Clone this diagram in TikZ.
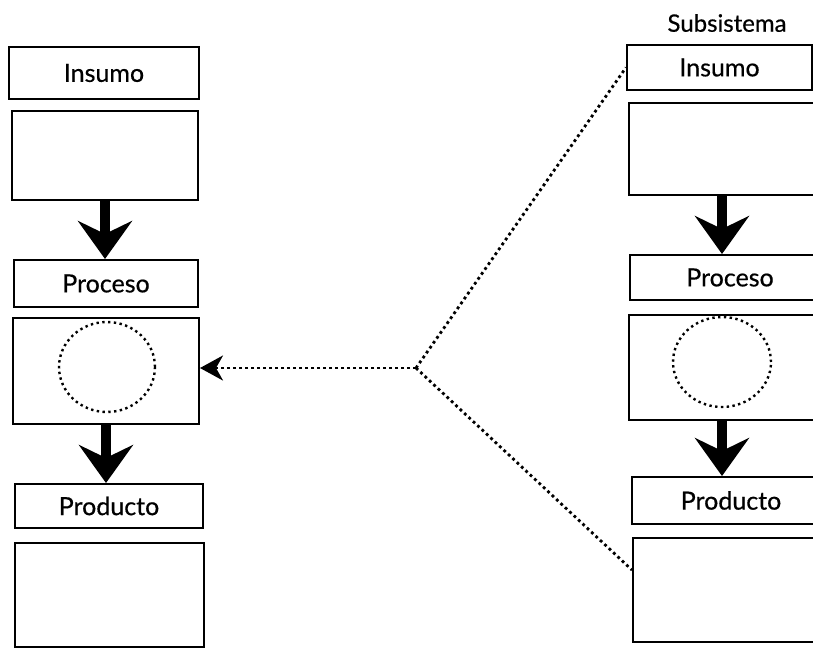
\documentclass[tikz,border=0pt]{standalone}
\usepackage{fontspec}
\setmainfont{Lato}
\newfontfamily\gill{Lato}[FakeBold=0.5]
\usetikzlibrary{arrows.meta,shapes.geometric}
\begin{document}
\begin{tikzpicture}[x=1pt,y=-1pt,
  box/.style={draw, line width=2pt, inner sep=0pt, font=\gill\fontsize{25}{28}\selectfont},
  dotcirc/.style={ellipse, draw, line width=2.4pt, dash pattern=on 2.4pt off 3.4pt, inner sep=0pt},
  bigarrow/.style={line width=10pt, -{Stealth[length=38pt, width=54pt, inset=13pt]}},
  dotline/.style={line width=2.8pt, dash pattern=on 2.8pt off 3.2pt},
  dotarrow/.style={dotline, -{Stealth[length=23pt, width=25pt, inset=7pt]}}
]
\clip (0,0) rectangle (813,648);
% left column
\node[box, minimum width=190pt, minimum height=52pt] (LI) at (104,73) {Insumo};
\node[box, minimum width=186pt, minimum height=89pt] (LE) at (105,155.5) {};
\node[box, minimum width=184pt, minimum height=47pt] (LP) at (106,283.5) {Proceso};
\node[box, minimum width=186pt, minimum height=106pt] (LC) at (106,371) {};
\node[dotcirc, minimum width=96pt, minimum height=90pt] (LCc) at (107,367) {};
\node[box, minimum width=188pt, minimum height=44pt] (LD) at (109,506) {Producto};
\node[box, minimum width=189pt, minimum height=104pt] (LB) at (109.5,595) {};
\draw[bigarrow] (LE.south) -- (LE.south |- LP.north);
\draw[bigarrow] (LC.south) -- (LC.south |- LD.north);
% right column
\node[font=\gill\fontsize{24}{27}\selectfont] (S) at (727,23) {Subsistema};
\node[box, minimum width=185pt, minimum height=45pt] (RI) at (719.5,67.5) {Insumo};
\node[box, minimum width=201pt, minimum height=92pt] (RE) at (729.5,149) {};
\node[box, minimum width=200pt, minimum height=45pt] (RP) at (730,277.5) {Proceso};
\node[box, minimum width=201pt, minimum height=105pt] (RC) at (729.5,367.5) {};
\node[dotcirc, minimum width=98pt, minimum height=90pt] (RCc) at (722,362) {};
\node[box, minimum width=198pt, minimum height=47pt] (RD) at (731,500.5) {Producto};
\node[box, minimum width=197pt, minimum height=104pt] (RB) at (731.5,590) {};
\draw[bigarrow] (RE.south -| RCc) -- (RP.north -| RCc);
\draw[bigarrow] (RC.south -| RCc) -- (RD.north -| RCc);
% dotted connectors
\coordinate (A) at (416,368);
\draw[dotline] (A) -- (RI.west);
\draw[dotline] (A) -- ([yshift=20pt]RB.west);
\draw[dotarrow] (A) -- (A -| LC.east);
\end{tikzpicture}
\end{document}
